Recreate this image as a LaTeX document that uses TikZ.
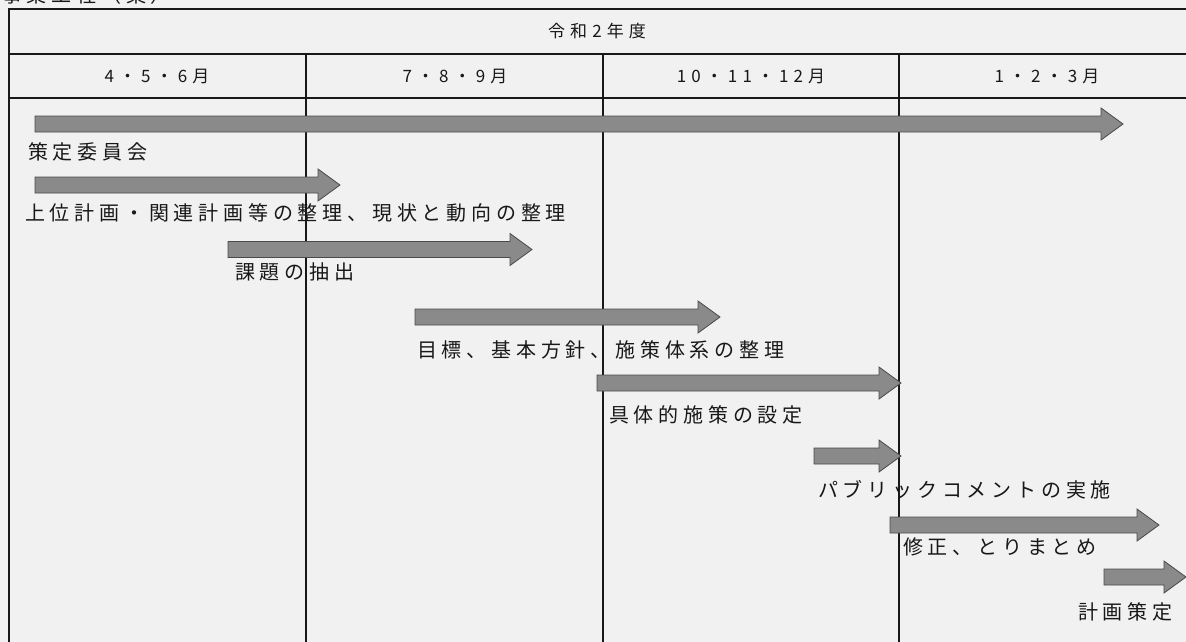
\documentclass[tikz,border=0pt]{standalone}
\usepackage{fontspec}
\newfontfamily\jp[LetterSpace=24]{Noto Sans CJK JP}
\newfontfamily\jph[LetterSpace=30]{Noto Sans CJK JP}
\definecolor{bg}{HTML}{F1F1F1}
\definecolor{barfill}{HTML}{8A8A8A}
\definecolor{bardraw}{HTML}{4A4A4A}
\definecolor{ink}{HTML}{181818}
\newcommand\garrow[4]{%
  \coordinate (#1s) at (#2,#4);
  \coordinate (#1e) at (#3,#4);
  \draw[bar] (#2,#4-8) -- (#3-22,#4-8) -- (#3-22,#4-16) -- (#3,#4)
    -- (#3-22,#4+16) -- (#3-22,#4+8) -- (#2,#4+8) -- cycle;}
\begin{document}
\begin{tikzpicture}[x=1pt,y=-1pt,
  lbl/.style={font=\jp\fontsize{20}{22}\selectfont, inner sep=0pt, anchor=west, text=ink},
  hdr/.style={font=\jph\fontsize{17}{20}\selectfont, inner sep=0pt, text=ink},
  grid/.style={draw=ink, line width=1.3pt},
  bar/.style={fill=barfill, draw=bardraw, line width=0.8pt}]
\fill[bg] (0,0) rectangle (1186,642);
\useasboundingbox (0,0) rectangle (1186,642);
\begin{scope}
\clip (0,0) rectangle (1186,642);
\node[lbl, anchor=base west] (title) at (2,2.5) {事業工程（案）};
% table
\draw[grid] (1186,9) -- (9,9) -- (9,642);
\draw[grid] (9,54) -- (1186,54);
\draw[grid] (9,98) -- (1186,98);
\draw[grid] (306,54) -- (306,642);
\draw[grid] (603,54) -- (603,642);
\draw[grid] (899,54) -- (899,642);
\node[hdr] (year) at (597,31) {令和2年度};
\node[hdr] (q1) at (157,76) {4・5・6月};
\node[hdr] (q2) at (455,76) {7・8・9月};
\node[hdr] (q3) at (751,76) {10・11・12月};
\node[hdr] (q4) at (1047,76) {1・2・3月};
% arrows
\garrow{a1}{35}{1123}{124}
\node[lbl] (l1) at (28,152) {策定委員会};
\garrow{a2}{35}{340}{185}
\node[lbl] (l2) at (25,213) {上位計画・関連計画等の整理、現状と動向の整理};
\garrow{a3}{228}{532}{249.5}
\node[lbl] (l3) at (235,272) {課題の抽出};
\garrow{a4}{415}{720}{317}
\node[lbl] (l4) at (417,350) {目標、基本方針、施策体系の整理};
\garrow{a5}{597}{901}{383}
\node[lbl] (l5) at (609,415) {具体的施策の設定};
\garrow{a6}{814}{901}{456}
\node[lbl] (l6) at (818,490) {パブリックコメントの実施};
\garrow{a7}{890}{1159}{525}
\node[lbl] (l7) at (903,547) {修正、とりまとめ};
\garrow{a8}{1104}{1186}{577}
\node[lbl] (l8) at (1078,612) {計画策定};
\end{scope}
\end{tikzpicture}
\end{document}
